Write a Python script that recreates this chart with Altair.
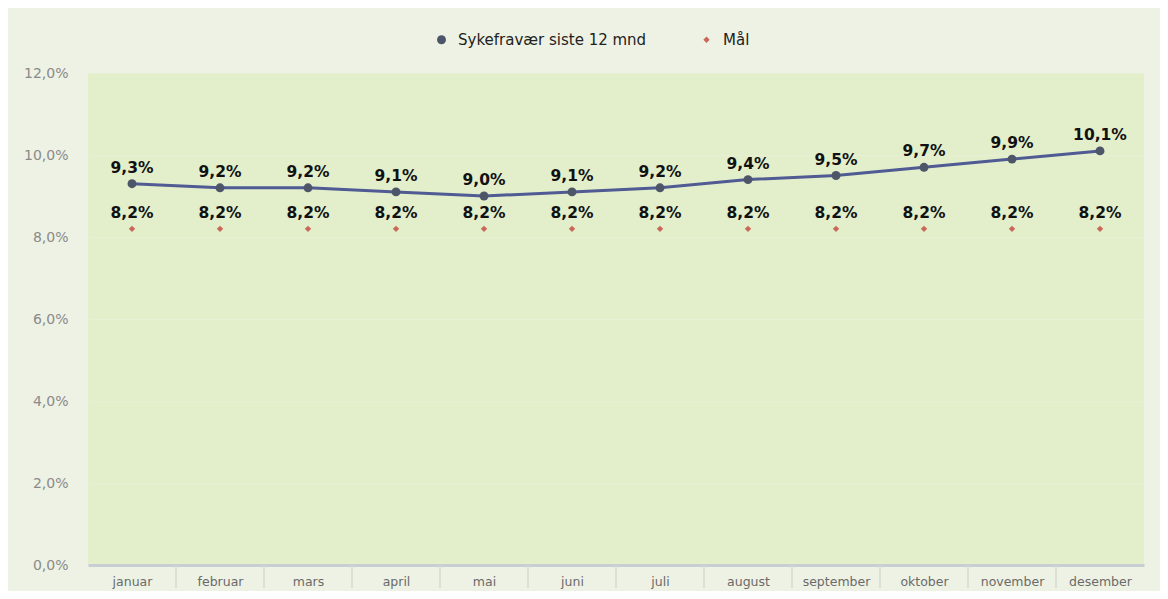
import altair as alt
import pandas as pd

months = ["januar", "februar", "mars", "april", "mai", "juni", "juli",
          "august", "september", "oktober", "november", "desember"]
sykefravaer = [0.093, 0.092, 0.092, 0.091, 0.090, 0.091, 0.092, 0.094, 0.095, 0.097, 0.099, 0.101]
maal = [0.082] * 12
series_names = ["Sykefravær siste 12 mnd", "Mål"]

rows = []
for m, a, b in zip(months, sykefravaer, maal):
    rows.append({"month": m, "series": series_names[0], "value": a})
    rows.append({"month": m, "series": series_names[1], "value": b})
df = pd.DataFrame(rows)
df["label"] = df["value"].map(lambda v: f"{v*100:.1f}%".replace(".", ","))
sep_df = pd.DataFrame({"month": months[1:]})

x = alt.X("month:N", sort=months, title=None,
          scale=alt.Scale(type="point", padding=0.5, domain=months),
          axis=alt.Axis(labelAngle=0, labelColor="#6a6a6a", labelFontSize=12.5,
                        labelFont="DejaVu Sans", labelPadding=10,
                        domainColor="#c9ced4", domainWidth=3, ticks=False))
y = alt.Y("value:Q", title=None,
          scale=alt.Scale(domain=[0, 0.12], nice=False),
          axis=alt.Axis(values=[0, 0.02, 0.04, 0.06, 0.08, 0.10, 0.12],
                        labelExpr="replace(format(datum.value, '.1%'), '.', ',')",
                        labelColor="#8a8a8a", labelFontSize=14, labelFont="DejaVu Sans",
                        labelPadding=20, domain=False, ticks=False,
                        grid=True, gridColor="#f2f6ea", gridOpacity=0.3))

color = alt.Color("series:N", sort=series_names,
                  scale=alt.Scale(domain=series_names, range=["#4d5568", "#c8675a"]),
                  legend=alt.Legend(title=None, orient="none", direction="horizontal",
                                    legendX=346, legendY=-41, labelFontSize=15,
                                    labelFont="DejaVu Sans", labelColor="#222222",
                                    labelLimit=300, labelOffset=9,
                                    symbolSize=60, columnPadding=52))
shape = alt.Shape("series:N", sort=series_names,
                  scale=alt.Scale(domain=series_names, range=["circle", "diamond"]),
                  legend=None)

base = alt.Chart(df)

seps = alt.Chart(sep_df).mark_rule(color="#d6dbd0", strokeWidth=1.5, xOffset=-44).encode(
    x=alt.X("month:N", sort=months, scale=alt.Scale(type="point", padding=0.5, domain=months)),
    y=alt.value(493), y2=alt.value(515))

line = base.transform_filter(alt.datum.series == series_names[0]).mark_line(
    color="#4f5b92", strokeWidth=3).encode(x=x, y=y)

points = base.mark_point(filled=True, opacity=1).encode(
    x=x, y=y, color=color, shape=shape,
    size=alt.Size("series:N", sort=series_names,
                  scale=alt.Scale(domain=series_names, range=[80, 40]), legend=None))

text = base.mark_text(dy=-16, fontSize=15.5, fontWeight="bold", font="DejaVu Sans",
                      color="#111111").encode(x=x, y=y, text="label:N")

chart = alt.layer(line, points, text, seps).properties(
    width=1056, height=492,
    background="#eef2e4",
    padding={"left": 80, "top": 65, "right": 16, "bottom": 26},
    autosize=alt.AutoSizeParams(type="none"),
).configure_view(fill="#e3eecb", stroke=None)

chart.save("out.html", embed_options={"renderer": "svg", "actions": False})
